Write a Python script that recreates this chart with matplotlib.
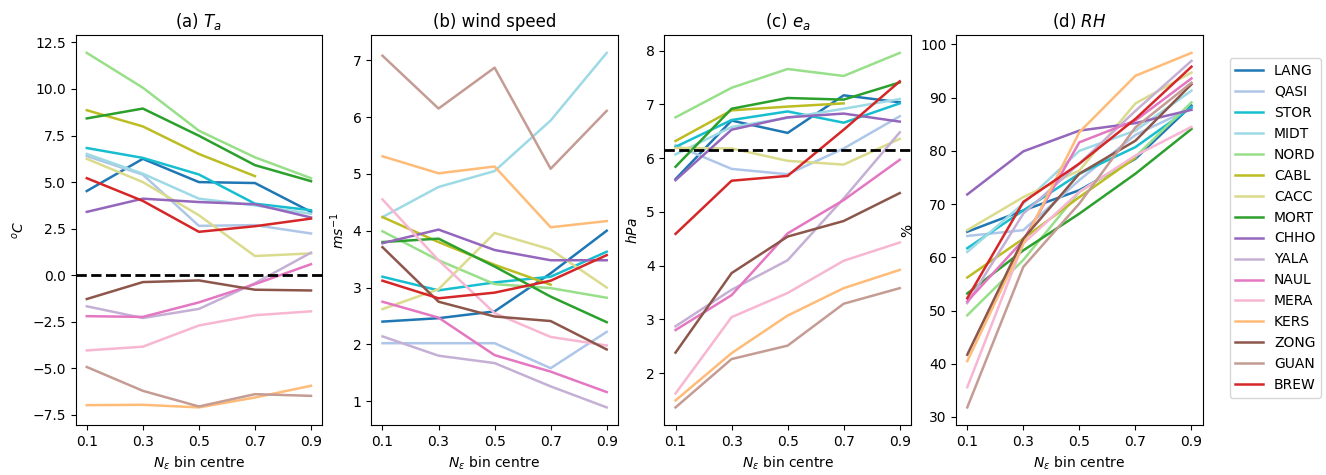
import matplotlib
matplotlib.use("Agg")
import matplotlib.pyplot as plt

# ── Data ──
x = [0.1, 0.3, 0.5, 0.7, 0.9]
sites = ["LANG", "QASI", "STOR", "MIDT", "NORD", "CABL", "CACC", "MORT",
         "CHHO", "YALA", "NAUL", "MERA", "KERS", "ZONG", "GUAN", "BREW"]
colors = ["#1f77b4", "#aec7e8", "#17becf", "#9edae5", "#98df8a", "#bcbd22",
          "#dbdb8d", "#2ca02c", "#9467bd", "#c5b0d5", "#e377c2", "#f7b6d2",
          "#ffbb78", "#8c564b", "#c49c94", "#d62728"]

ta = {
    "LANG": [4.52, 6.25, 5.0, 4.95, 3.4],
    "QASI": [6.4, 5.4, 2.65, 2.69, 2.24],
    "STOR": [6.83, 6.3, 5.41, 3.84, 3.49],
    "MIDT": [6.51, 5.45, 4.11, 3.75, 3.3],
    "NORD": [11.94, 10.07, 7.76, 6.33, 5.21],
    "CABL": [8.86, 7.99, 6.51, 5.32],
    "CACC": [6.25, 5.0, 3.22, 1.03, 1.17],
    "MORT": [8.42, 8.95, 7.49, 5.91, 5.05],
    "CHHO": [3.4, 4.11, 3.93, 3.81, 3.1],
    "YALA": [-1.67, -2.3, -1.81, -0.43, 1.21],
    "NAUL": [-2.2, -2.24, -1.46, -0.48, 0.59],
    "MERA": [-4.04, -3.84, -2.7, -2.15, -1.94],
    "KERS": [-6.98, -6.96, -7.1, -6.57, -5.94],
    "ZONG": [-1.28, -0.37, -0.28, -0.78, -0.82],
    "GUAN": [-4.93, -6.21, -7.05, -6.39, -6.48],
    "BREW": [5.21, 3.99, 2.33, 2.63, 3.04],
}
ws = {
    "LANG": [2.4, 2.46, 2.58, 3.25, 4.0],
    "QASI": [2.02, 2.02, 2.02, 1.58, 2.22],
    "STOR": [3.19, 2.95, 3.09, 3.19, 3.63],
    "MIDT": [4.24, 4.77, 5.05, 5.94, 7.13],
    "NORD": [3.99, 3.48, 3.06, 2.99, 2.82],
    "CABL": [4.24, 3.8, 3.4, 3.05],
    "CACC": [2.62, 2.97, 3.96, 3.67, 3.0],
    "MORT": [3.8, 3.86, 3.37, 2.84, 2.39],
    "CHHO": [3.78, 4.02, 3.66, 3.48, 3.48],
    "YALA": [2.14, 1.8, 1.67, 1.26, 0.89],
    "NAUL": [2.75, 2.47, 1.81, 1.52, 1.16],
    "MERA": [4.55, 3.48, 2.55, 2.13, 1.98],
    "KERS": [5.31, 5.01, 5.13, 4.06, 4.17],
    "ZONG": [3.71, 2.75, 2.49, 2.41, 1.91],
    "GUAN": [7.08, 6.15, 6.87, 5.09, 6.11],
    "BREW": [3.12, 2.81, 2.91, 3.12, 3.57],
}
ea = {
    "LANG": [5.61, 6.7, 6.47, 7.17, 7.04],
    "QASI": [6.24, 5.8, 5.7, 6.18, 6.78],
    "STOR": [6.21, 6.71, 6.87, 6.66, 7.02],
    "MIDT": [6.07, 6.58, 6.75, 6.92, 7.1],
    "NORD": [6.76, 7.31, 7.66, 7.53, 7.96],
    "CABL": [6.32, 6.89, 6.96, 7.02],
    "CACC": [6.19, 6.18, 5.95, 5.88, 6.36],
    "MORT": [5.84, 6.92, 7.12, 7.09, 7.41],
    "CHHO": [5.59, 6.53, 6.76, 6.83, 6.68],
    "YALA": [2.87, 3.55, 4.1, 5.25, 6.48],
    "NAUL": [2.8, 3.45, 4.6, 5.22, 5.97],
    "MERA": [1.62, 3.04, 3.49, 4.09, 4.43],
    "KERS": [1.49, 2.37, 3.07, 3.58, 3.92],
    "ZONG": [2.38, 3.86, 4.54, 4.83, 5.35],
    "GUAN": [1.36, 2.26, 2.51, 3.29, 3.58],
    "BREW": [4.59, 5.58, 5.67, 6.53, 7.43],
}
rh = {
    "LANG": [64.8, 68.8, 72.6, 78.5, 88.5],
    "QASI": [64.0, 65.1, 74.5, 83.0, 88.0],
    "STOR": [61.7, 68.8, 75.7, 80.7, 88.2],
    "MIDT": [61.0, 70.1, 80.0, 83.8, 91.3],
    "NORD": [49.1, 59.5, 72.3, 78.9, 89.1],
    "CABL": [56.2, 63.5, 71.3, 78.7],
    "CACC": [65.1, 71.3, 76.3, 88.9, 94.7],
    "MORT": [53.2, 61.3, 68.2, 75.7, 84.1],
    "CHHO": [71.8, 79.9, 83.8, 85.2, 87.7],
    "YALA": [51.4, 68.2, 77.6, 87.5, 96.9],
    "NAUL": [51.7, 63.2, 81.6, 85.7, 93.6],
    "MERA": [35.6, 62.6, 72.3, 79.1, 84.5],
    "KERS": [40.5, 62.6, 83.5, 94.1, 98.4],
    "ZONG": [41.7, 63.5, 75.7, 81.9, 92.5],
    "GUAN": [31.8, 58.2, 70.1, 84.4, 92.8],
    "BREW": [52.3, 70.4, 77.6, 86.0, 95.8],
}
ta_ref = 0.0
ea_ref = 6.16

panels = [
    (ta, r"(a) $T_a$", r"$^oC$", ta_ref),
    (ws, "(b) wind speed", r"$ms^{-1}$", None),
    (ea, r"(c) $e_a$", r"$hPa$", ea_ref),
    (rh, r"(d) $RH$", "%", None),
]

plt.rcParams.update({"font.size": 10})
fig = plt.figure(figsize=(13.26, 4.75), dpi=100)
lefts = [0.057, 0.280, 0.501, 0.721]

for left, (data, title, ylab, ref) in zip(lefts, panels):
    ax = fig.add_axes([left, 0.105, 0.186, 0.821])
    for s, c in zip(sites, colors):
        vals = data[s]
        ax.plot(x[:len(vals)], vals, color=c, lw=1.8, label=s)
    if ref is not None:
        ax.axhline(ref, color="black", ls="--", lw=2)
    ax.set_xticks(x)
    ax.set_xticklabels(["0.1", "0.3", "0.5", "0.7", "0.9"])
    ax.set_title(title, fontsize=12)
    ax.set_ylabel(ylab)
    ax.set_xlabel(r"$N_\varepsilon$ bin centre")

handles, labels = ax.get_legend_handles_labels()
fig.legend(handles, labels, loc="center left", bbox_to_anchor=(0.922, 0.52),
           fontsize=10, handlelength=2.0)

fig.savefig("out.png", dpi=100)
